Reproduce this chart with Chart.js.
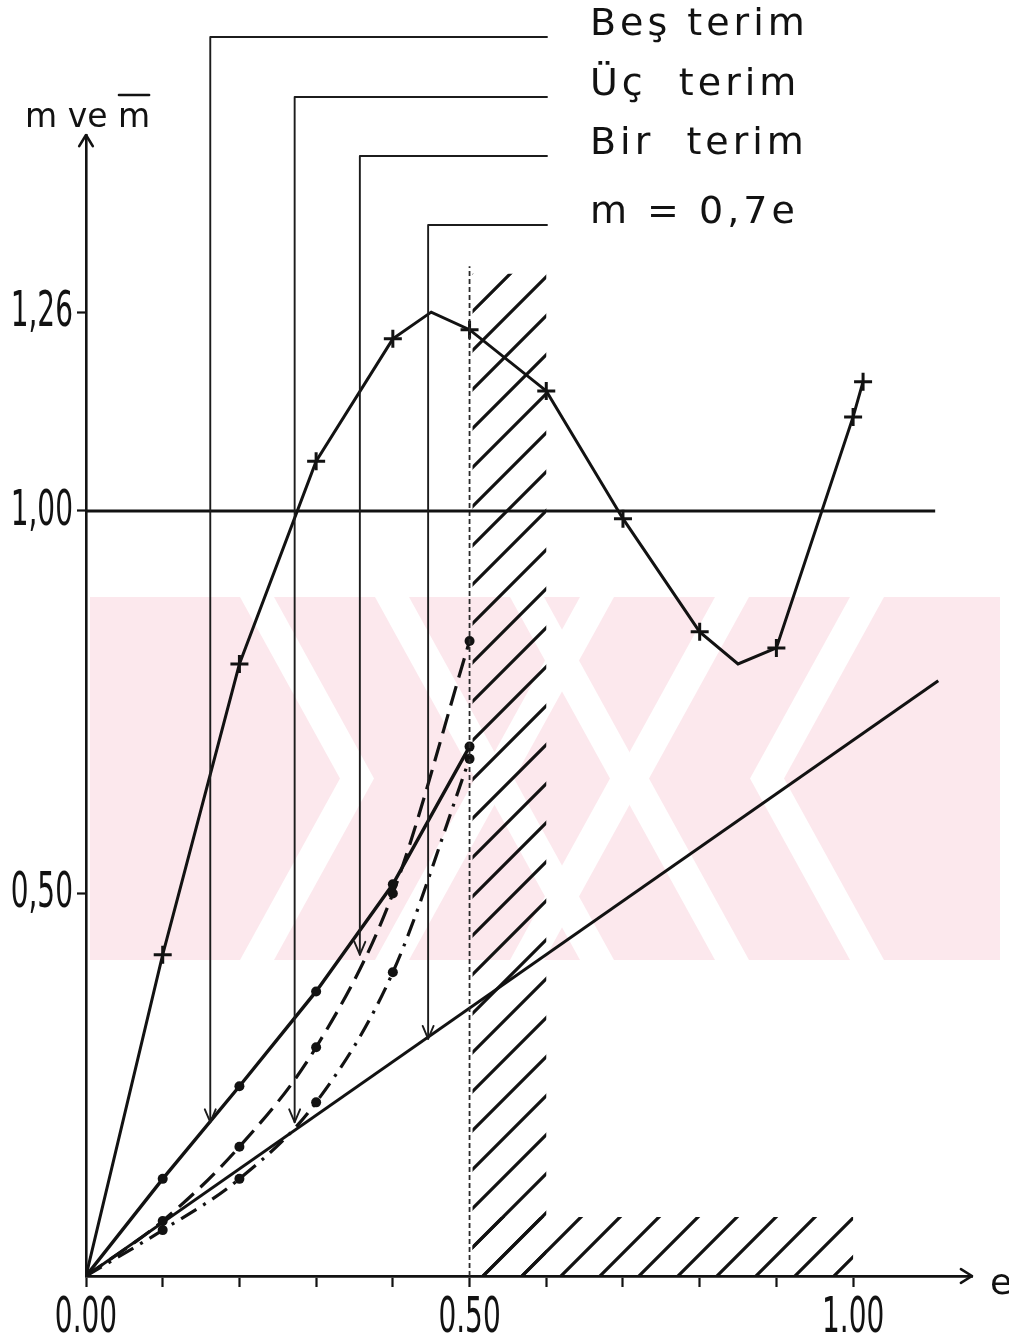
<!DOCTYPE html>
<html>
<head>
<meta charset="utf-8">
<script src="https://cdn.jsdelivr.net/npm/chart.js@4.4.1/dist/chart.umd.min.js"></script>
<style>
  html, body { margin: 0; padding: 0; background: #fff; }
  #wrap { width: 1009px; height: 1340px; }
</style>
</head>
<body>
<div id="wrap"><canvas id="c" width="1009" height="1340"></canvas></div>
<script>
// ---- data -------------------------------------------------------------
// eccentricity e at which the series were evaluated
const eSample  = [0, 0.1, 0.2, 0.3, 0.4, 0.5];
const besTerim = [0, 0.127, 0.248, 0.372, 0.512, 0.692];   // five-term series
const ucTerim  = [0, 0.060, 0.127, 0.227, 0.397, 0.676];   // three-term series
const birTerim = [0, 0.072, 0.169, 0.299, 0.500, 0.830];   // one-term series

// straight line m = 0,7 e
const lineE = [0, 1.111];
const lineM = [0, 0.778];

// m-bar curve
const mBarE    = [0, 0.1, 0.2, 0.3, 0.4, 0.45, 0.5, 0.6, 0.7, 0.8, 0.85, 0.9, 1.0, 1.013];
const mBarVals = [0, 0.42, 0.80, 1.065, 1.225, 1.26, 1.237, 1.157, 0.99, 0.842, 0.80, 0.821, 1.123, 1.169];
const mBarUnmarked = [0, 0.45, 0.85];

// reference level m = 1,00
const unitE = [0, 1.107];
const unitM = [1.0, 1.0];

// boundary e = 0,50 and the hatched (invalid) regions
const limitE = 0.5;
const limitTop = 1.32;
const hatchColumn = { e: [0.5, 0.6], m: [0, 1.31] };
const hatchBand   = { e: [0.5, 1.0], m: [0, 0.077] };

// axis ticks
const xTicks = [0, 0.1, 0.2, 0.3, 0.4, 0.5, 0.6, 0.7, 0.8, 0.9, 1.0];
const xTickLabels = { 0: '0.00', 0.5: '0.50', 1: '1.00' };
const yTicks = [0.5, 1.0, 1.26];
const yTickLabels = ['0,50', '1,00', '1,26'];

// legend entries and where each pointer arrow lands
const legendLabels = ['Beş terim', 'Üç  terim', 'Bir  terim', 'm = 0,7e'];
const pointerE = [0.162, 0.272, 0.357, 0.446];
const pointerM = [0.201, 0.201, 0.420, 0.310];

// ---- helpers ----------------------------------------------------------
const INK = '#121212';
const pts = (xs, ys) => xs.map((x, i) => ({ x, y: ys[i] }));

function drawHatch(ctx, xs, ys, region) {
  const x0 = xs.getPixelForValue(region.e[0]), x1 = xs.getPixelForValue(region.e[1]);
  const y0 = ys.getPixelForValue(region.m[1]), y1 = ys.getPixelForValue(region.m[0]);
  ctx.save();
  ctx.beginPath();
  ctx.rect(x0 + 3, y0, x1 - x0 - 3, y1 - y0);
  ctx.clip();
  ctx.strokeStyle = INK;
  ctx.lineWidth = 3.2;
  ctx.lineCap = 'round';
  const step = 39, anchor = 1759;
  for (let c = anchor - step * 60; c < anchor + step * 60; c += step) {
    // 45 degree line: x + y = c
    if (c < x0 + y0 - 10 || c > x1 + y1 + 10) continue;
    ctx.beginPath();
    ctx.moveTo(x0 - 5, c - (x0 - 5));
    ctx.lineTo(x1 + 5, c - (x1 + 5));
    ctx.stroke();
  }
  ctx.restore();
}

// faint pink ornament printed behind the plot
function drawOrnament(ctx) {
  const top = 597, bot = 960, mid = (top + bot) / 2, left = 90, right = 1000;
  const w = 34, reach = 100;
  ctx.save();
  ctx.beginPath();
  ctx.rect(left, top, right - left, bot - top);
  ctx.clip();
  ctx.fillStyle = 'rgba(250, 214, 222, 0.55)';
  ctx.fillRect(left, top, right - left, bot - top);
  ctx.fillStyle = '#fff';
  [240, 375, 510].forEach(s => {          // '>' shaped gaps
    ctx.beginPath();
    ctx.moveTo(s, top); ctx.lineTo(s + w, top); ctx.lineTo(s + w + reach, mid);
    ctx.lineTo(s + w, bot); ctx.lineTo(s, bot); ctx.lineTo(s + reach, mid);
    ctx.closePath(); ctx.fill();
  });
  [580, 715, 850].forEach(t => {          // '<' shaped gaps
    ctx.beginPath();
    ctx.moveTo(t, top); ctx.lineTo(t + w, top); ctx.lineTo(t + w - reach, mid);
    ctx.lineTo(t + w, bot); ctx.lineTo(t, bot); ctx.lineTo(t - reach, mid);
    ctx.closePath(); ctx.fill();
  });
  ctx.restore();
}

function arrowHead(ctx, x, y, dir, len, spread) {
  ctx.beginPath();
  ctx.moveTo(x + Math.cos(dir + Math.PI - spread) * len, y + Math.sin(dir + Math.PI - spread) * len);
  ctx.lineTo(x, y);
  ctx.lineTo(x + Math.cos(dir + Math.PI + spread) * len, y + Math.sin(dir + Math.PI + spread) * len);
  ctx.stroke();
}

// tall, narrow lettering for the tick numbers
function narrowText(ctx, text, x, y, align) {
  ctx.save();
  ctx.translate(x, y);
  ctx.scale(0.56, 1);
  ctx.textAlign = align;
  ctx.fillText(text, 0, 0);
  ctx.restore();
}

const decor = {
  id: 'decor',
  beforeDatasetsDraw(chart) {
    const { ctx, scales: { x, y } } = chart;
    drawOrnament(ctx);
    drawHatch(ctx, x, y, hatchColumn);
    drawHatch(ctx, x, y, hatchBand);
  },
  afterDraw(chart) {
    const { ctx, chartArea: a, scales: { x, y } } = chart;
    ctx.save();
    ctx.strokeStyle = INK;
    ctx.fillStyle = INK;
    ctx.lineCap = 'round';
    ctx.lineJoin = 'round';

    // tick numbers
    ctx.font = "50px 'DejaVu Sans', sans-serif";
    ctx.textBaseline = 'middle';
    yTicks.forEach((v, i) => narrowText(ctx, yTickLabels[i], a.left - 13, y.getPixelForValue(v) + 1, 'right'));
    xTicks.forEach(v => {
      const lab = xTickLabels[Math.round(v * 10) / 10];
      if (lab) narrowText(ctx, lab, x.getPixelForValue(v), 1319, 'center');
    });

    // axis arrows
    ctx.lineWidth = 2.6;
    arrowHead(ctx, a.left, a.top, -Math.PI / 2, 13, 0.55);
    arrowHead(ctx, a.right, a.bottom, 0, 13, 0.55);

    // axis titles
    ctx.font = "36px 'DejaVu Sans', sans-serif";
    ctx.textBaseline = 'alphabetic';
    ctx.textAlign = 'left';
    ctx.fillText('e', 990, 1294);
    ctx.font = "33px 'DejaVu Sans', sans-serif";
    const lead = 'm ve ';
    const tx = 25, ty = 127;
    ctx.fillText(lead, tx, ty);
    const w0 = ctx.measureText(lead).width;
    ctx.fillText('m', tx + w0, ty);
    const wm = ctx.measureText('m').width;
    ctx.lineWidth = 2.5;
    ctx.beginPath(); ctx.moveTo(tx + w0 + 1, 95); ctx.lineTo(tx + w0 + wm - 1, 95); ctx.stroke();

    // legend with pointer arrows
    const rowY = [37, 97, 156, 225];
    const lineEnd = 547;
    ctx.lineWidth = 1.9;
    ctx.strokeStyle = '#1c1c1c';
    ctx.font = "38px 'DejaVu Sans', sans-serif";
    ctx.letterSpacing = '4px';
    ctx.textBaseline = 'middle';
    legendLabels.forEach((label, i) => {
      const px = x.getPixelForValue(pointerE[i]);
      const py = y.getPixelForValue(pointerM[i]);
      ctx.beginPath();
      ctx.moveTo(lineEnd, rowY[i]);
      ctx.lineTo(px, rowY[i]);
      ctx.lineTo(px, py);
      ctx.stroke();
      arrowHead(ctx, px, py, Math.PI / 2, 14, 0.4);
      ctx.fillText(label, 590, rowY[i] - 12);
    });
    ctx.restore();
  }
};

// ---- chart ------------------------------------------------------------
const lineBase = { showLine: true, fill: false, tension: 0, pointHoverRadius: 0 };
const dotRadius = c => c.dataIndex === 0 ? 0 : 5;

new Chart(document.getElementById('c'), {
  type: 'scatter',
  data: {
    datasets: [
      { ...lineBase, label: 'm = 1,00', data: pts(unitE, unitM), borderColor: INK, borderWidth: 2.8, pointRadius: 0 },
      { ...lineBase, label: 'e = 0,50', data: pts([limitE, limitE], [0, limitTop]), borderColor: '#2a2a2a', borderWidth: 1.8, borderDash: [5, 3], pointRadius: 0 },
      { ...lineBase, label: 'm = 0,7e', data: pts(lineE, lineM), borderColor: INK, borderWidth: 3, pointRadius: 0 },
      { ...lineBase, label: 'Beş terim', data: pts(eSample, besTerim), borderColor: INK, borderWidth: 3.4,
        pointStyle: 'circle', pointRadius: dotRadius, pointBackgroundColor: INK, pointBorderWidth: 0 },
      { ...lineBase, label: 'Üç terim', data: pts(eSample, ucTerim), borderColor: INK, borderWidth: 3.2, borderDash: [18, 8, 3, 8],
        cubicInterpolationMode: 'monotone', pointStyle: 'circle', pointRadius: dotRadius, pointBackgroundColor: INK, pointBorderWidth: 0 },
      { ...lineBase, label: 'Bir terim', data: pts(eSample, birTerim), borderColor: INK, borderWidth: 3.2, borderDash: [20, 9],
        cubicInterpolationMode: 'monotone', pointStyle: 'circle', pointRadius: dotRadius, pointBackgroundColor: INK, pointBorderWidth: 0 },
      { ...lineBase, label: 'm bar', data: pts(mBarE, mBarVals), borderColor: INK, borderWidth: 3,
        pointStyle: 'cross', pointRadius: c => mBarUnmarked.includes(mBarE[c.dataIndex]) ? 0 : 9,
        pointBorderColor: INK, pointBorderWidth: 3 }
    ]
  },
  options: {
    responsive: false,
    animation: false,
    devicePixelRatio: 1,
    layout: { padding: { top: 135, right: 37, left: 0, bottom: 0 } },
    plugins: { legend: { display: false }, tooltip: { enabled: false } },
    scales: {
      x: {
        type: 'linear', min: 0, max: 1.155,
        afterBuildTicks: s => { s.ticks = xTicks.map(v => ({ value: v })); },
        afterFit: s => { s.height = 64; },
        ticks: { display: false },
        grid: { drawOnChartArea: false, drawTicks: true, tickLength: 11, tickWidth: 2.2, tickColor: INK },
        border: { display: true, color: INK, width: 2.8 }
      },
      y: {
        type: 'linear', min: 0, max: 1.4915,
        afterBuildTicks: s => { s.ticks = yTicks.map(v => ({ value: v })); },
        afterFit: s => { s.width = 86; },
        ticks: { display: false },
        grid: { drawOnChartArea: false, drawTicks: true, tickLength: 9, tickWidth: 2.2, tickColor: INK },
        border: { display: true, color: INK, width: 2.6 }
      }
    }
  },
  plugins: [decor]
});
</script>
</body>
</html>
